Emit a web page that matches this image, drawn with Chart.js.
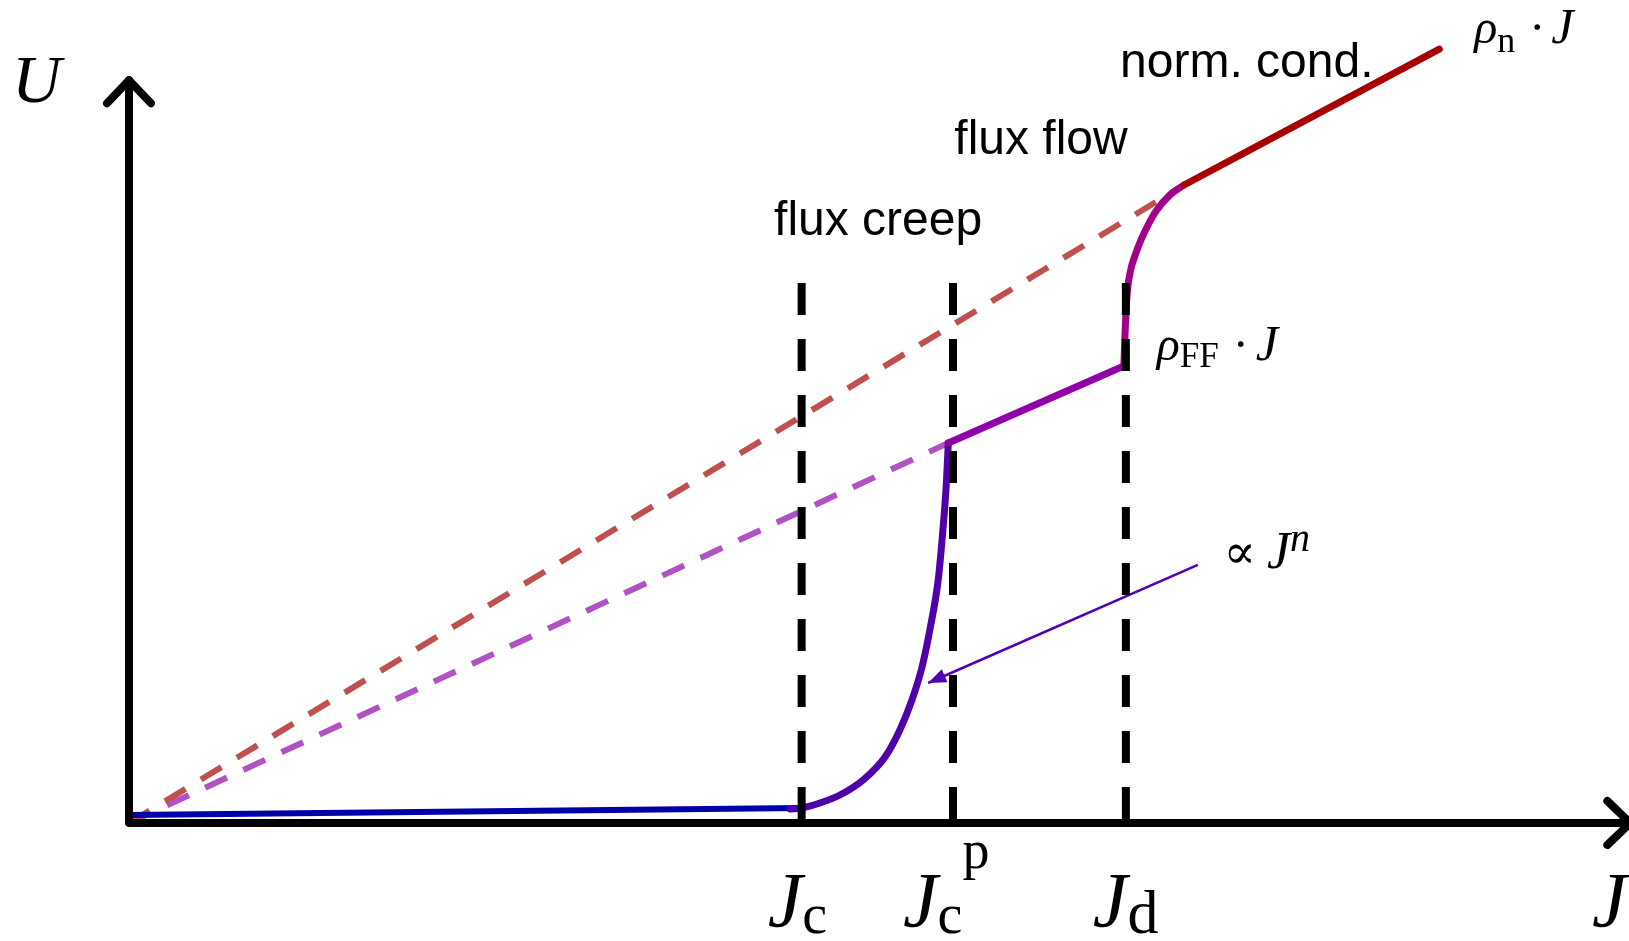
<!DOCTYPE html>
<html>
<head>
<meta charset="utf-8">
<title>U-J characteristic</title>
<script src="https://cdn.jsdelivr.net/npm/chart.js@4.4.1/dist/chart.umd.min.js"></script>
<style>
  html, body { margin: 0; padding: 0; background: #fff; }
  canvas { display: block; }
</style>
</head>
<body>
<canvas id="ujChart" width="1629" height="941"></canvas>
<script>
// J in units of Jc, U in arbitrary units
const markJ = [1.0, 1.225, 1.482];          // Jc, Jc^p, Jd
const markTopU = 7.27;

const creepJ = [0, 1.0];
const creepU = [0.108, 0.202];

const powerJ = [0.983, 1.0, 1.027, 1.057, 1.093, 1.124, 1.146, 1.164, 1.179, 1.192, 1.203, 1.210, 1.215, 1.218];
const powerU = [0.189, 0.202, 0.269, 0.377, 0.592, 0.889, 1.252, 1.656, 2.100, 2.666, 3.272, 3.945, 4.551, 5.116];

const ffDashJ = [0, 1.218];
const ffDashU = [0, 5.116];
const ffJ = [1.218, 1.479];
const ffU = [5.116, 6.153];

const stepJ = [1.479, 1.481, 1.484, 1.489, 1.496, 1.505, 1.5155, 1.527, 1.548, 1.5685];
const stepU = [6.153, 6.638, 7.136, 7.440, 7.650, 7.860, 8.060, 8.240, 8.460, 8.590];

const normDashJ = [0, 1.5685];
const normDashU = [0, 8.590];
const normJ = [1.5685, 1.948];
const normU = [8.590, 10.42];

const pointerJ = [1.589, 1.188];
const pointerU = [3.474, 1.885];

const axisTopU = 10.0;
const axisEndJ = 2.232;

const toPoints = (js, us) => js.map((j, i) => ({ x: j, y: us[i] }));

const curve = (label, js, us, color, width, extra) => Object.assign({
  label,
  data: toPoints(js, us),
  borderColor: color,
  borderWidth: width,
  borderCapStyle: 'round',
  pointRadius: 0,
  showLine: true,
  fill: false,
  clip: false
}, extra || {});

const markSets = markJ.map((j, i) => curve('mark' + i, [j, j], [markTopU, 0], '#000', 8, {
  borderDash: [32, 24],
  borderCapStyle: 'butt'
}));

// math-style label: runs of text drawn left to right
function drawRuns(ctx, x0, y0, runs) {
  let x = x0;
  runs.forEach(r => {
    ctx.font = r.font;
    x += r.dx || 0;
    ctx.fillText(r.text, x, y0 + (r.dy || 0));
    x += ctx.measureText(r.text).width;
  });
}

const serif = '"Liberation Serif", "DejaVu Serif", serif';
const it = size => `italic ${size}px ${serif}`;
const up = size => `${size}px ${serif}`;
const sans = '48px "Liberation Sans", Arial, sans-serif';

const sketchPlugin = {
  id: 'sketch',
  afterDatasetsDraw(chart) {
    const { ctx, scales: { x, y } } = chart;
    const px = v => x.getPixelForValue(v);
    const py = v => y.getPixelForValue(v);
    ctx.save();

    // axes with open arrow heads
    ctx.strokeStyle = '#000';
    ctx.lineWidth = 8;
    ctx.lineJoin = 'round';
    ctx.lineCap = 'round';
    ctx.beginPath();
    ctx.moveTo(px(0), py(axisTopU));
    ctx.lineTo(px(0), py(0));
    ctx.lineTo(px(axisEndJ), py(0));
    ctx.stroke();
    ctx.beginPath();
    ctx.moveTo(px(0) - 22, py(axisTopU) + 23);
    ctx.lineTo(px(0), py(axisTopU));
    ctx.lineTo(px(0) + 22, py(axisTopU) + 23);
    ctx.moveTo(px(axisEndJ) - 23, py(0) - 22);
    ctx.lineTo(px(axisEndJ), py(0));
    ctx.lineTo(px(axisEndJ) - 23, py(0) + 22);
    ctx.stroke();

    // pointer head
    const tx = px(pointerJ[1]), ty = py(pointerU[1]);
    const ang = Math.atan2(ty - py(pointerU[0]), tx - px(pointerJ[0]));
    ctx.fillStyle = '#5000B4';
    ctx.beginPath();
    ctx.moveTo(tx, ty);
    ctx.lineTo(tx - 18 * Math.cos(ang) + 7 * Math.sin(ang), ty - 18 * Math.sin(ang) - 7 * Math.cos(ang));
    ctx.lineTo(tx - 18 * Math.cos(ang) - 7 * Math.sin(ang), ty - 18 * Math.sin(ang) + 7 * Math.cos(ang));
    ctx.closePath();
    ctx.fill();

    // labels
    ctx.fillStyle = '#000';
    ctx.textBaseline = 'alphabetic';
    drawRuns(ctx, px(0) - 117, py(axisTopU) + 22, [{ text: 'U', font: it(68) }]);
    drawRuns(ctx, px(2.175), py(0) + 103, [{ text: 'J', font: it(78) }]);

    const tickBase = py(0) + 103;
    drawRuns(ctx, px(markJ[0]) - 34, tickBase, [
      { text: 'J', font: it(78) }, { text: 'c', font: up(56), dy: 7 }
    ]);
    drawRuns(ctx, px(markJ[1]) - 50, tickBase, [
      { text: 'J', font: it(78) }, { text: 'c', font: up(56), dy: 7 }, { text: 'p', font: up(54), dy: -58 }
    ]);
    drawRuns(ctx, px(markJ[2]) - 33, tickBase, [
      { text: 'J', font: it(78) }, { text: 'd', font: up(62), dy: 7 }
    ]);

    drawRuns(ctx, px(2.0), py(10.502), [
      { text: 'ρ', font: it(48) }, { text: 'n', font: up(36), dy: 9 },
      { text: '·', font: up(48), dx: 14 }, { text: 'J', font: it(50), dx: 6 }
    ]);
    drawRuns(ctx, px(1.528), py(6.234), [
      { text: 'ρ', font: it(48) }, { text: 'FF', font: up(35), dy: 7 },
      { text: '·', font: up(48), dx: 14 }, { text: 'J', font: it(50), dx: 7 }
    ]);
    drawRuns(ctx, px(1.627), py(3.433), [
      { text: '∝', font: up(48) }, { text: 'J', font: it(52), dx: 11 }, { text: 'n', font: it(40), dy: -17 }
    ]);

    ctx.font = sans;
    ctx.fillText('flux creep', px(0.959), py(7.917));
    ctx.fillText('flux flow', px(1.227), py(9.008));
    ctx.fillText('norm. cond.', px(1.4734), py(10.045));

    ctx.restore();
  }
};

new Chart(document.getElementById('ujChart'), {
  type: 'scatter',
  data: {
    datasets: [
      ...markSets,
      curve('pointer', pointerJ, pointerU, '#5000B4', 2.5, { borderCapStyle: 'butt' }),
      curve('normal', normJ, normU, '#A80000', 7),
      curve('transition', stepJ, stepU, '#A0008A', 7, { cubicInterpolationMode: 'monotone' }),
      curve('flux flow', ffJ, ffU, '#9000A8', 7),
      curve('power law', powerJ, powerU, '#5000A8', 7, { cubicInterpolationMode: 'monotone' }),
      curve('creep', creepJ, creepU, '#0000A8', 6),
      curve('rho_n J', normDashJ, normDashU, '#C0504D', 6, { borderDash: [24, 18], borderCapStyle: 'butt' }),
      curve('rho_FF J', ffDashJ, ffDashU, '#B052C4', 6, { borderDash: [24, 18], borderCapStyle: 'butt' })
    ]
  },
  options: {
    responsive: false,
    animation: false,
    devicePixelRatio: 1,
    layout: { padding: { left: 129, right: 0, top: 6, bottom: 118 } },
    plugins: { legend: { display: false }, tooltip: { enabled: false } },
    scales: {
      x: { type: 'linear', min: 0, max: 2.23, display: false },
      y: { type: 'linear', min: 0, max: 11, display: false }
    }
  },
  plugins: [sketchPlugin]
});
</script>
</body>
</html>
